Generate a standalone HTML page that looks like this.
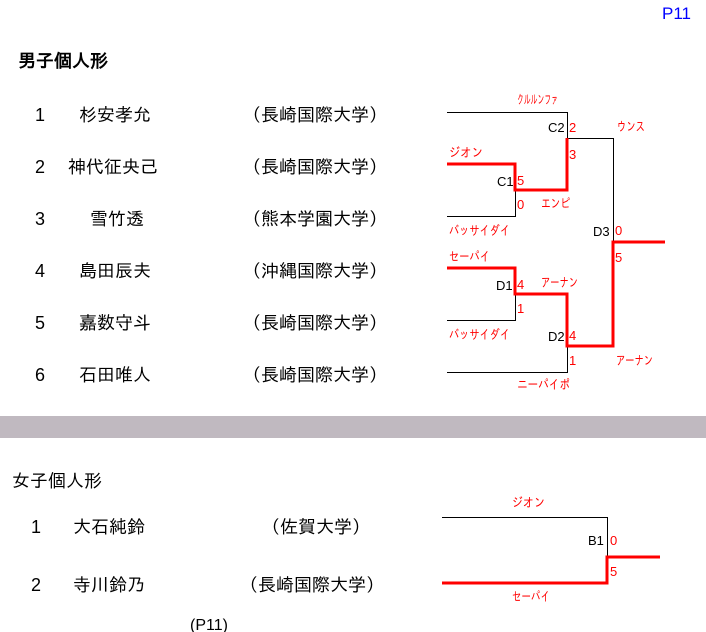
<!DOCTYPE html>
<html><head><meta charset="utf-8"><style>
html,body{margin:0;padding:0;background:#fff;width:706px;height:632px;overflow:hidden}
svg{display:block}
text{font-family:"Liberation Sans","IPAGothic","Noto Sans CJK JP",sans-serif}
.t{font-size:18px;fill:#000}
.h{font-size:18px;font-weight:bold;fill:#000}
.r{font-size:13px;fill:#f00}
.n{font-size:13px;fill:#f00}
.b{font-size:13px;fill:#000}
</style></head><body>
<svg width="706" height="632" xmlns="http://www.w3.org/2000/svg">
<text x="662" y="19" font-family="Liberation Serif,serif" font-size="17" fill="#00f">P11</text>
<text class="h" x="18" y="67">男子個人形</text>
<g class="t">
<text x="35" y="121">1</text><text x="79" y="121">杉安孝允</text><text x="243" y="121">（長崎国際大学）</text>
<text x="35" y="173">2</text><text x="68" y="173">神代征央己</text><text x="243" y="173">（長崎国際大学）</text>
<text x="35" y="225">3</text><text x="90" y="225">雪竹透</text><text x="243" y="225">（熊本学園大学）</text>
<text x="35" y="277">4</text><text x="79" y="277">島田辰夫</text><text x="243" y="277">（沖縄国際大学）</text>
<text x="35" y="329">5</text><text x="79" y="329">嘉数守斗</text><text x="243" y="329">（長崎国際大学）</text>
<text x="35" y="381">6</text><text x="79" y="381">石田唯人</text><text x="243" y="381">（長崎国際大学）</text>
</g>
<g fill="none" stroke="#000" stroke-width="1">
<polyline points="447,112.5 567.5,112.5 567.5,138"/>
<polyline points="567,138.5 613.5,138.5 613.5,242"/>
<polyline points="447,216.5 515.5,216.5 515.5,190"/>
<polyline points="447,320.5 515.5,320.5 515.5,294"/>
<polyline points="447,372.5 567.5,372.5 567.5,346"/>
</g>
<g fill="none" stroke="#f00" stroke-width="3">
<polyline points="447,164 515,164 515,190 567,190 567,138"/>
<polyline points="447,268 515,268 515,294 567,294 567,346 613,346 613,242 665,242"/>
</g>
<g class="r" lengthAdjust="spacingAndGlyphs">
<text x="517" y="104" textLength="41" lengthAdjust="spacingAndGlyphs">クルルンファ</text>
<text x="617" y="131" textLength="28" lengthAdjust="spacingAndGlyphs">ウンス</text>
<text x="449" y="157" textLength="34" lengthAdjust="spacingAndGlyphs">ジオン</text>
<text x="541" y="208" textLength="29" lengthAdjust="spacingAndGlyphs">エンピ</text>
<text x="449" y="235" textLength="61" lengthAdjust="spacingAndGlyphs">バッサイダイ</text>
<text x="449" y="261" textLength="41" lengthAdjust="spacingAndGlyphs">セーパイ</text>
<text x="541" y="287" textLength="37" lengthAdjust="spacingAndGlyphs">アーナン</text>
<text x="449" y="339" textLength="61" lengthAdjust="spacingAndGlyphs">バッサイダイ</text>
<text x="616" y="365" textLength="37" lengthAdjust="spacingAndGlyphs">アーナン</text>
<text x="517" y="389" textLength="53" lengthAdjust="spacingAndGlyphs">ニーパイポ</text>
<text x="512" y="507" textLength="33" lengthAdjust="spacingAndGlyphs">ジオン</text>
<text x="512" y="601" textLength="38" lengthAdjust="spacingAndGlyphs">セーパイ</text>
</g>
<text class="b" x="548" y="132">C2</text><text class="n" x="569" y="132">2</text>
<text class="n" x="569" y="159">3</text>
<text class="b" x="497" y="186">C1</text><text class="n" x="517" y="185">5</text>
<text class="n" x="517" y="209">0</text>
<text class="b" x="593" y="236">D3</text><text class="n" x="615" y="235">0</text>
<text class="n" x="615" y="262">5</text>
<text class="b" x="496" y="290">D1</text><text class="n" x="517" y="289">4</text>
<text class="n" x="517" y="313">1</text>
<text class="b" x="548" y="341">D2</text><text class="n" x="569" y="340">4</text>
<text class="n" x="569" y="365">1</text>
<rect x="0" y="416" width="706" height="22" fill="#c0b9c0"/>
<text class="h" x="12" y="487" style="font-weight:normal">女子個人形</text>
<g class="t">
<text x="31" y="533">1</text><text x="73" y="533">大石純鈴</text><text x="262" y="533">（佐賀大学）</text>
<text x="31" y="591">2</text><text x="73" y="591">寺川鈴乃</text><text x="240" y="591">（長崎国際大学）</text>
<text x="190" y="630" style="font-size:16px">(P11)</text>
</g>
<polyline points="442,517.5 607.5,517.5 607.5,557" fill="none" stroke="#000" stroke-width="1"/>
<polyline points="442,583 607,583 607,557 660,557" fill="none" stroke="#f00" stroke-width="3"/>
<text class="b" x="588" y="545">B1</text><text class="n" x="610" y="545">0</text>
<text class="n" x="610" y="576">5</text>
</svg>
</body></html>
